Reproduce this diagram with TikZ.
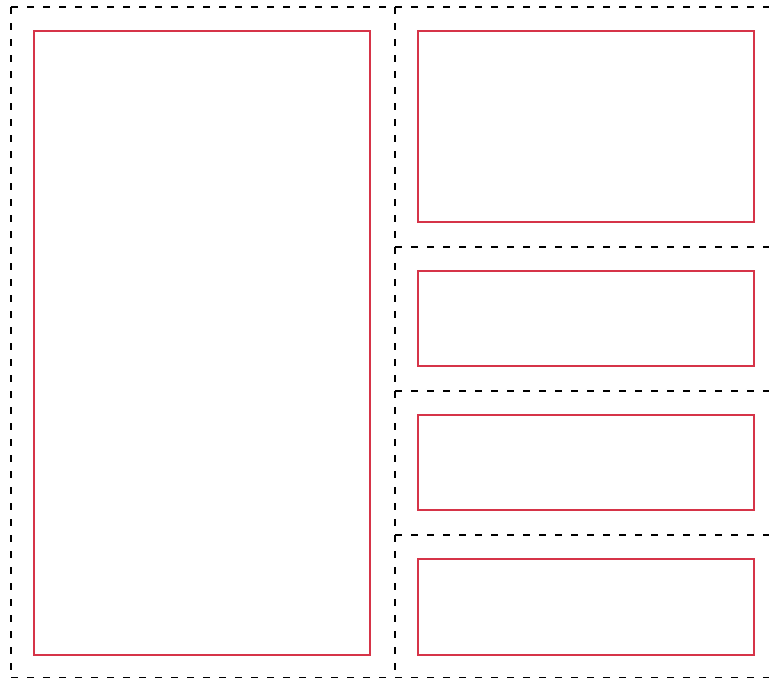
\documentclass[tikz,border=0pt]{standalone}
\definecolor{slotred}{RGB}{214,52,72}

\begin{document}
\begin{tikzpicture}[x=0.75pt,y=-0.75pt,
panel/.style={black,line width=2.2pt,dash pattern=on 5.25pt off 6.75pt},
slot/.style={draw=slotred,line width=1.9pt}]

\useasboundingbox (0,0) rectangle (769,678);
\clip (0,0) rectangle (769,678);

% dashed panels
\draw[panel] (11,7) -- (11,678.3) (395,7) -- (395,678.3);
\draw[panel] (11,7) -- (775,7) (11,678.3) -- (775,678.3);
\foreach \y in {247,391,535}
	\draw[panel] (395,\y) -- (775,\y);

% red slots
\draw[slot] (34,31) rectangle (370,655);
\foreach \top/\bot in {31/222,271/366,415/510,559/655}
	\draw[slot] (418,\top) rectangle (754,\bot);
\end{tikzpicture}
\end{document}
